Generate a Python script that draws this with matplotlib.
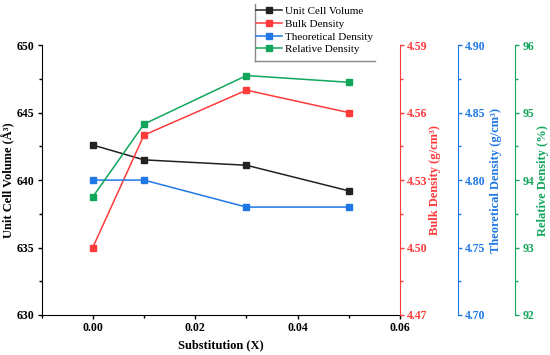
import numpy as np
import matplotlib
matplotlib.use("Agg")
import matplotlib.pyplot as plt
from matplotlib.ticker import MultipleLocator

plt.rcParams['font.family'] = ['Liberation Serif', 'DejaVu Serif']

x = [0.00, 0.01, 0.03, 0.05]
volume = [642.6, 641.5, 641.1, 639.2]
bulk = [4.50, 4.55, 4.57, 4.56]
theo = [4.80, 4.80, 4.78, 4.78]
rel = [93.75, 94.83, 95.55, 95.45]

c_red = '#FF3B3B'
c_blue = '#1F78E6'
c_green = '#12A65C'

fig = plt.figure(figsize=(5.5, 3.55), dpi=100)
ax = fig.add_axes([0.0755, 0.1127, 0.652, 0.760])

l1, = ax.plot(x, volume, color='#222222', marker='s', ms=4, lw=1.1, label='Unit Cell Volume')
ax.set_xlim(-0.01, 0.06)
ax.set_ylim(630, 650)
ax.xaxis.set_major_locator(MultipleLocator(0.02))
ax.xaxis.set_minor_locator(MultipleLocator(0.01))
ax.yaxis.set_major_locator(MultipleLocator(5))
ax.yaxis.set_minor_locator(MultipleLocator(2.5))
ax.set_xticks([0.0, 0.02, 0.04, 0.06])
ax.set_xticklabels(['0.00', '0.02', '0.04', '0.06'])
ax.tick_params(direction='out', length=3, width=1, labelsize=8.5, pad=2)
ax.tick_params(which='minor', direction='out', length=2, width=1)
for lab in ax.get_xticklabels() + ax.get_yticklabels():
    lab.set_fontweight('bold')
ax.spines['top'].set_visible(False)
ax.spines['right'].set_visible(False)
ax.set_xlabel('Substitution (X)', fontweight='bold', fontsize=9)
ax.set_ylabel('Unit Cell Volume (Å³)', fontweight='bold', fontsize=9)
ax.yaxis.set_label_coords(-0.072, 0.5)

def side_axis(offset, color, lims, step, label, fmt, labx):
    a = ax.twinx()
    a.spines['right'].set_position(('axes', offset))
    for s in ['top', 'left', 'bottom']:
        a.spines[s].set_visible(False)
    a.spines['right'].set_color(color)
    a.set_ylim(*lims)
    a.set_yticks(np.arange(lims[0], lims[1] + step / 2, step))
    a.yaxis.set_minor_locator(MultipleLocator(step / 2))
    a.yaxis.set_major_formatter(plt.FormatStrFormatter(fmt))
    a.tick_params(axis='y', colors=color, direction='out', length=3, width=1, labelsize=8.5, pad=2)
    a.tick_params(axis='y', which='minor', colors=color, direction='out', length=2, width=1)
    for lab in a.get_yticklabels():
        lab.set_fontweight('bold')
    a.set_ylabel(label, color=color, fontweight='bold', fontsize=9)
    a.yaxis.set_label_coords(labx, 0.5)
    return a

ax2 = side_axis(1.0, c_red, (4.47, 4.59), 0.03, 'Bulk Density (g/cm³)', '%.2f', 1.08)
ax3 = side_axis(1.161, c_blue, (4.70, 4.90), 0.05, 'Theoretical Density (g/cm³)', '%.2f', 1.25)
ax4 = side_axis(1.321, c_green, (92, 96), 1, 'Relative Density (%)', '%d', 1.382)

l2, = ax2.plot(x, bulk, color=c_red, marker='s', ms=4, lw=1.1, label='Bulk Density')
l3, = ax3.plot(x, theo, color=c_blue, marker='s', ms=4, lw=1.1, label='Theoretical Density')
l4, = ax4.plot(x, rel, color=c_green, marker='s', ms=4, lw=1.1, label='Relative Density')

leg = fig.legend(handles=[l1, l2, l3, l4], loc='upper left', bbox_to_anchor=(0.458, 0.994),
                 frameon=False, fontsize=8, handlelength=2.3, handletextpad=0.25,
                 labelspacing=0.26, borderaxespad=0)
fig.add_artist(plt.Line2D([0.4636, 0.4636], [0.828, 0.989], color='#888888', lw=1))
fig.add_artist(plt.Line2D([0.4636, 0.682], [0.828, 0.828], color='#888888', lw=1))

fig.savefig('out.png', dpi=100)
